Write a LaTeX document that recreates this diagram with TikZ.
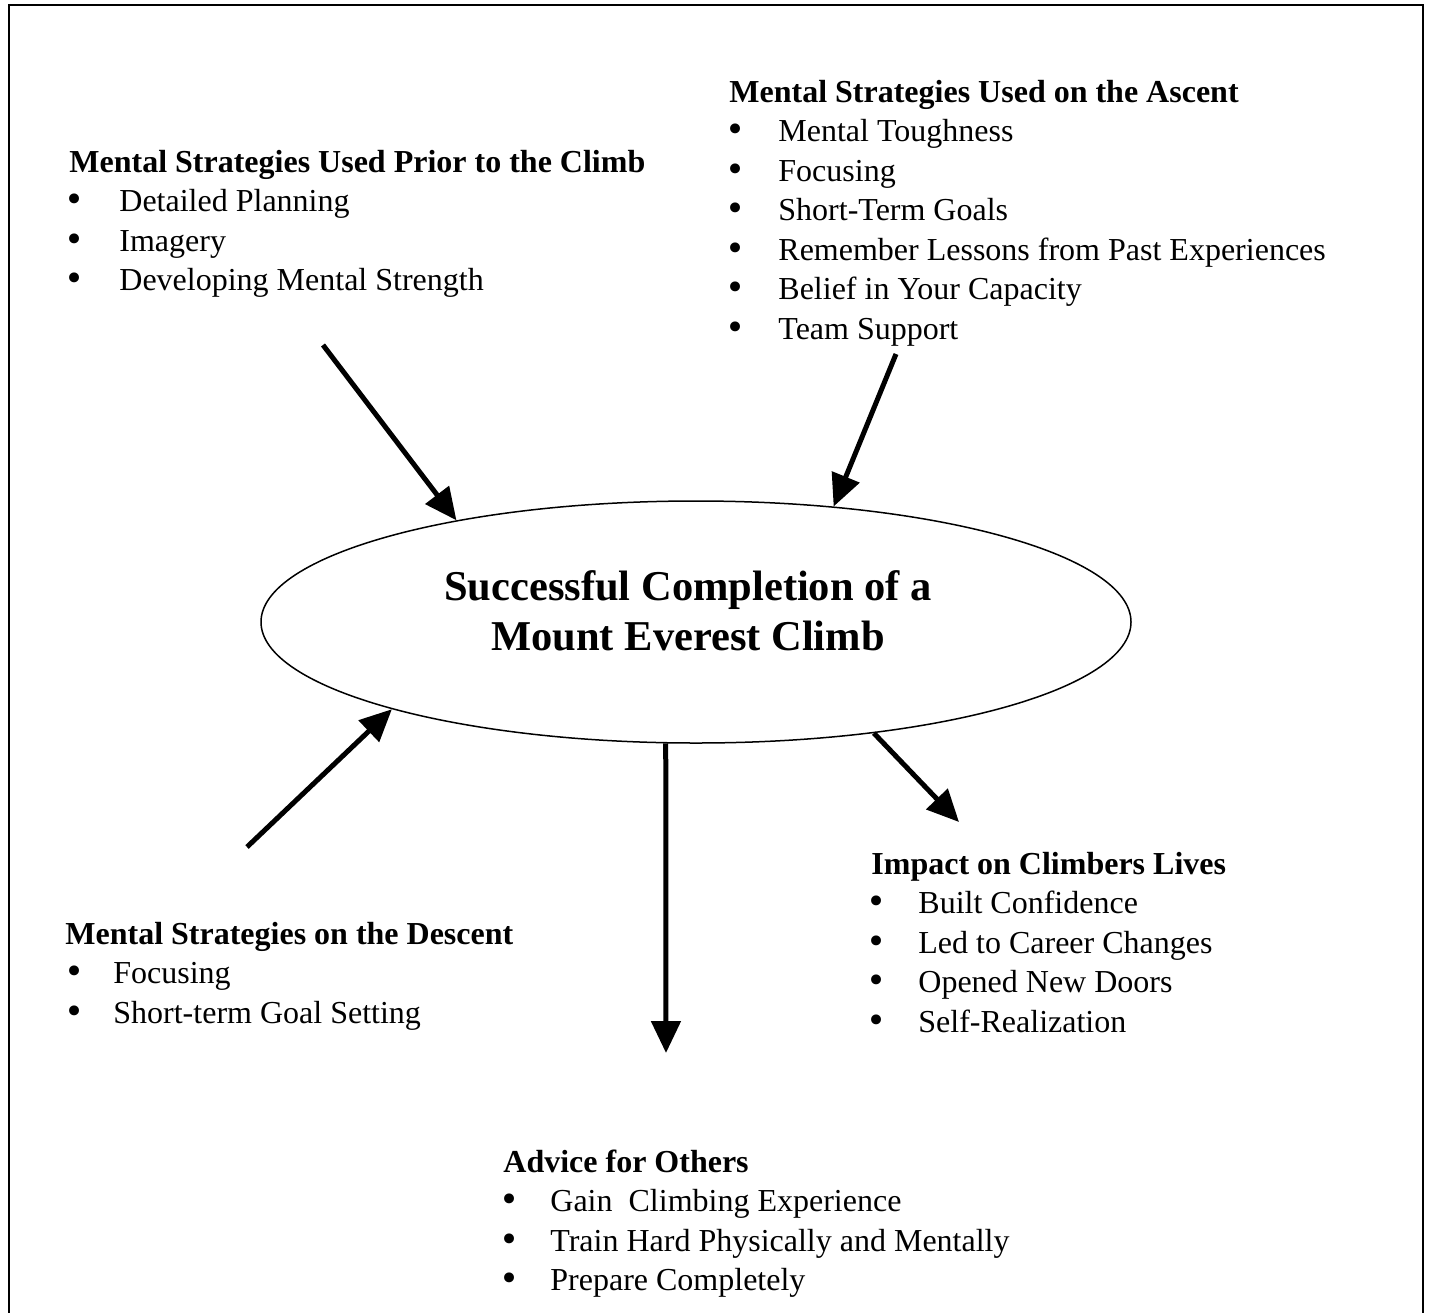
\documentclass[tikz,border=0pt]{standalone}
\usepackage{fontspec}
\setmainfont{Liberation Serif}
\newfontfamily\bulfont{DejaVu Sans}
\usetikzlibrary{arrows.meta,shapes.geometric}
\newcommand\bodyfont{\fontsize{16pt}{19.75pt}\selectfont}
\newcommand\titlefont{\fontsize{21.25pt}{25pt}\selectfont\bfseries}
\newcommand\bigbul{{\bulfont\fontsize{17pt}{17pt}\selectfont •}}
\begin{document}
\begin{tikzpicture}[x=0.5pt,y=-0.5pt,
  hd/.style={anchor=base west,inner sep=0pt,font=\bodyfont\bfseries},
  txt/.style={anchor=base west,inner sep=0pt,font=\bodyfont},
  bul/.style={anchor=base,inner sep=0pt},
  ttl/.style={anchor=base,inner sep=0pt,font=\titlefont},
  arr/.style={line width=2.5pt,-{Triangle[width=14.5pt,length=16pt]}},
  goalshape/.style={ellipse,draw,line width=0.75pt,minimum width=435pt,minimum height=121pt,inner sep=0pt}]
\useasboundingbox (0,0) rectangle (1429,1312);
\begin{scope}
\clip (0,0) rectangle (1429,1312);
\draw[line width=1pt] (9,5) rectangle (1423,1340);
\end{scope}

% central ellipse
\node[goalshape] (goal) at (696,622) {};
\node[ttl] (title1) at (688,600) {Successful Completion of a};
\node[ttl] (title2) at (688,650) {Mount Everest Climb};

% Prior to the climb
\node[hd] (prior) at (69,172) {Mental Strategies Used Prior to the Climb};
\node[bul] (pb1) at (75,211.5) {\bigbul};
\node[txt] (p1) at (119,211.5) {Detailed Planning};
\node[bul] (pb2) at (75,251) {\bigbul};
\node[txt] (p2) at (119,251) {Imagery};
\node[bul] (pb3) at (75,290.5) {\bigbul};
\node[txt] (p3) at (119,290.5) {Developing Mental Strength};

% Ascent
\node[hd] (ascent) at (729,102) {Mental Strategies Used on the Ascent};
\node[bul] (ab1) at (736,141.5) {\bigbul};
\node[txt] (a1) at (778,141.5) {Mental Toughness};
\node[bul] (ab2) at (736,181) {\bigbul};
\node[txt] (a2) at (778,181) {Focusing};
\node[bul] (ab3) at (736,220.5) {\bigbul};
\node[txt] (a3) at (778,220.5) {Short-Term Goals};
\node[bul] (ab4) at (736,260) {\bigbul};
\node[txt] (a4) at (778,260) {Remember Lessons from Past Experiences};
\node[bul] (ab5) at (736,299.5) {\bigbul};
\node[txt] (a5) at (778,299.5) {Belief in Your Capacity};
\node[bul] (ab6) at (736,339) {\bigbul};
\node[txt] (a6) at (778,339) {Team Support};

% Descent
\node[hd] (descent) at (65,944) {Mental Strategies on the Descent};
\node[bul] (db1) at (75,983.5) {\bigbul};
\node[txt] (d1) at (113,983.5) {Focusing};
\node[bul] (db2) at (75,1023) {\bigbul};
\node[txt] (d2) at (113,1023) {Short-term Goal Setting};

% Impact
\node[hd] (impact) at (871,874) {Impact on Climbers Lives};
\node[bul] (ib1) at (877,913.5) {\bigbul};
\node[txt] (i1) at (918,913.5) {Built Confidence};
\node[bul] (ib2) at (877,953) {\bigbul};
\node[txt] (i2) at (918,953) {Led to Career Changes};
\node[bul] (ib3) at (877,992.5) {\bigbul};
\node[txt] (i3) at (918,992.5) {Opened New Doors};
\node[bul] (ib4) at (877,1032) {\bigbul};
\node[txt] (i4) at (918,1032) {Self-Realization};

% Advice
\node[hd] (advice) at (503,1172) {Advice for Others};
\node[bul] (vb1) at (510,1211.5) {\bigbul};
\node[txt] (v1) at (550,1211.5) {Gain~ Climbing Experience};
\node[bul] (vb2) at (510,1251) {\bigbul};
\node[txt] (v2) at (550,1251) {Train Hard Physically and Mentally};
\node[bul] (vb3) at (510,1290.5) {\bigbul};
\node[txt] (v3) at (550,1290.5) {Prepare Completely};

% connectors
\coordinate (s1) at (323,345);
\coordinate (s2) at (896,354);
\coordinate (s3) at (247,847);
\coordinate (e4) at (666,1053);
\coordinate (e5) at (959,822);
\draw[arr] (s1) -- (goal.157.3);
\draw[arr] (s2) -- (goal.40.8);
\draw[arr] (s3) -- (goal.196);
\draw[arr] (goal.256) -- (e4);
\draw[arr] (goal.328) -- (e5);
\end{tikzpicture}
\end{document}
